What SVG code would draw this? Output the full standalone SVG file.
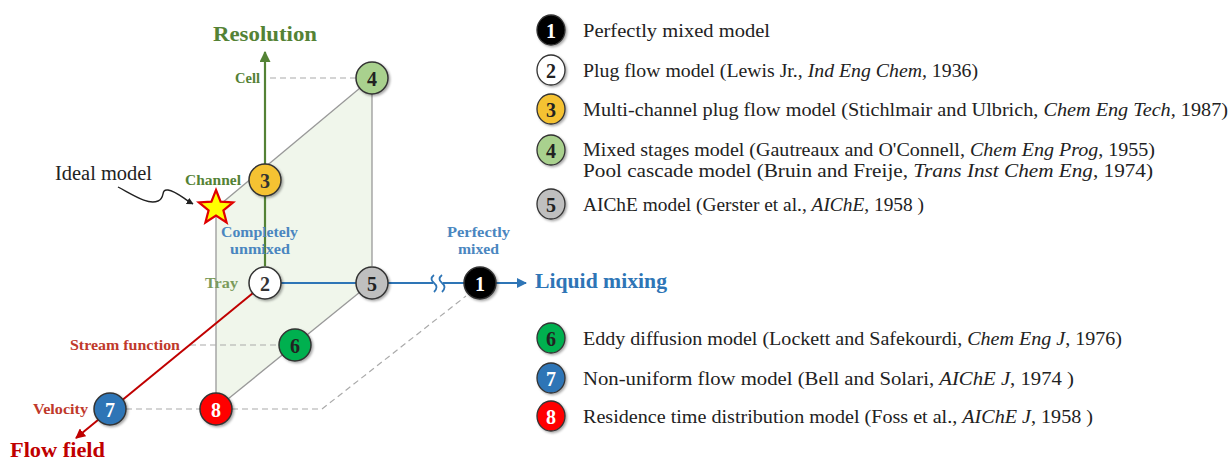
<svg xmlns="http://www.w3.org/2000/svg" width="1230" height="460" viewBox="0 0 1230 460">
<defs>
  <filter id="sh" x="-30%" y="-30%" width="170%" height="170%">
    <feDropShadow dx="1.5" dy="1.5" stdDeviation="1.2" flood-color="#000" flood-opacity="0.35"/>
  </filter>
  <marker id="ag" viewBox="0 0 10 10" refX="9" refY="5" markerWidth="5" markerHeight="5" orient="auto"><path d="M0,0 L10,5 L0,10 z" fill="#548235"/></marker>
  <marker id="ab" viewBox="0 0 10 10" refX="9" refY="5" markerWidth="5" markerHeight="5" orient="auto"><path d="M0,0 L10,5 L0,10 z" fill="#2e75b6"/></marker>
  <marker id="ar" viewBox="0 0 10 10" refX="9" refY="5" markerWidth="5" markerHeight="5" orient="auto"><path d="M0,0 L10,5 L0,10 z" fill="#c00000"/></marker>
  <marker id="ak" viewBox="0 0 10 10" refX="9" refY="5" markerWidth="5" markerHeight="5" orient="auto"><path d="M0,0 L10,5 L0,10 z" fill="#222"/></marker>
</defs>
<style>
  .num{font-family:"Liberation Serif",serif;font-weight:bold;font-size:20px;text-anchor:middle;dominant-baseline:central}
  .node{stroke:#333;stroke-width:1.5;filter:url(#sh)}
  .lnode{stroke:#333;stroke-width:1.3;filter:url(#sh)}
  .leg{font-family:"Liberation Serif",serif;font-size:19px;fill:#222;dominant-baseline:central}
  .ax{font-family:"Liberation Serif",serif;font-weight:bold;font-size:21px}
  .dash{stroke:#aaa;stroke-width:1.2;stroke-dasharray:6,4;fill:none}
  .edge{stroke:#999;stroke-width:1.3;fill:none}
  .lbl{font-family:"Liberation Serif",serif;font-weight:bold;font-size:14.5px}
</style>
<rect width="1230" height="460" fill="#fff"/>

<g id="face">
  <polygon points="216,208 372,78 372,282 216,409" fill="#e9f2e3" opacity="0.7"/>
</g>

<g id="connectors">
  <line class="edge" x1="216" y1="208" x2="360" y2="88"/>
  <line class="edge" x1="372" y1="94" x2="372" y2="266"/>
  <line class="edge" x1="360" y1="292" x2="228" y2="399"/>
  <line class="edge" x1="216" y1="208" x2="216" y2="393"/>
  <line class="dash" x1="270" y1="78" x2="356" y2="78"/>
  <line class="dash" x1="190" y1="345" x2="279" y2="345"/>
  <line class="dash" x1="126" y1="409" x2="200" y2="409"/>
  <polyline class="dash" points="232,409 322,409 466,296"/>
  <!-- Resolution axis -->
  <line x1="265" y1="266" x2="265" y2="52" stroke="#548235" stroke-width="2.2" marker-end="url(#ag)"/>
  <!-- Liquid mixing axis -->
  <line x1="281" y1="283" x2="356" y2="283" stroke="#2e75b6" stroke-width="2"/>
  <line x1="388" y1="283" x2="433" y2="283" stroke="#2e75b6" stroke-width="2"/>
  <path d="M434,275 q-5,4 0,8 q5,4 0,9 M442,275 q-5,4 0,8 q5,4 0,9" stroke="#2e75b6" stroke-width="1.8" fill="none"/>
  <line x1="443" y1="283" x2="464" y2="283" stroke="#2e75b6" stroke-width="2"/>
  <line x1="496" y1="283" x2="526" y2="283" stroke="#2e75b6" stroke-width="2" marker-end="url(#ab)"/>
  <!-- Flow field axis -->
  <line x1="253" y1="293" x2="76" y2="438" stroke="#c00000" stroke-width="2" marker-end="url(#ar)"/>
  <!-- Ideal model pointer -->
  <path d="M118,187 C135,196 148,205 158,201 C166,198 160,189 168,190 C176,191 184,199 193,204" stroke="#222" stroke-width="1.4" fill="none" marker-end="url(#ak)"/>
</g>

<g id="axis-labels">
  <text class="ax" x="213" y="41" fill="#548235" textLength="104" lengthAdjust="spacingAndGlyphs">Resolution</text>
  <text class="ax" x="535" y="288" fill="#2e75b6" textLength="132" lengthAdjust="spacingAndGlyphs">Liquid mixing</text>
  <text class="ax" x="10" y="457" fill="#c00000" textLength="95" lengthAdjust="spacingAndGlyphs">Flow field</text>
  <text class="lbl" x="235" y="83" fill="#548235" textLength="25" lengthAdjust="spacingAndGlyphs">Cell</text>
  <text class="lbl" x="185" y="185" fill="#548235" textLength="56" lengthAdjust="spacingAndGlyphs">Channel</text>
  <text class="lbl" x="205" y="288" fill="#7a9a5a" textLength="33" lengthAdjust="spacingAndGlyphs">Tray</text>
  <text class="lbl" x="70" y="350" fill="#c0392b" textLength="110" lengthAdjust="spacingAndGlyphs">Stream function</text>
  <text class="lbl" x="33" y="414" fill="#c0392b" textLength="55" lengthAdjust="spacingAndGlyphs">Velocity</text>
  <text class="lbl" x="221" y="237" fill="#4a86c0" textLength="77" lengthAdjust="spacingAndGlyphs">Completely</text>
  <text class="lbl" x="230" y="254" fill="#4a86c0" textLength="60" lengthAdjust="spacingAndGlyphs">unmixed</text>
  <text class="lbl" x="447" y="237" fill="#4a86c0" textLength="63" lengthAdjust="spacingAndGlyphs">Perfectly</text>
  <text class="lbl" x="458" y="254" fill="#4a86c0" textLength="41" lengthAdjust="spacingAndGlyphs">mixed</text>
  <text x="55" y="180" font-family="Liberation Serif, serif" font-size="20" fill="#222" textLength="97" lengthAdjust="spacingAndGlyphs">Ideal model</text>
</g>

<g id="star">
  <polygon points="216,190 220.6,201.7 233.1,202.4 223.4,210.3 226.6,222.5 216,215.6 205.4,222.5 208.6,210.3 198.9,202.4 211.4,201.7" fill="#ffff00" stroke="#e00000" stroke-width="2.2" stroke-linejoin="miter"/>
</g>

<g id="n4"><circle class="node" cx="372" cy="78" r="16" fill="#a9d18e"/><text class="num" x="372" y="79" fill="#222">4</text></g>
<g id="n3"><circle class="node" cx="265" cy="180" r="16" fill="#f5c231"/><text class="num" x="265" y="181" fill="#333">3</text></g>
<g id="n2"><circle class="node" cx="265" cy="283" r="16" fill="#fff"/><text class="num" x="265" y="284" fill="#333">2</text></g>
<g id="n5"><circle class="node" cx="372" cy="283" r="16" fill="#bfbfbf"/><text class="num" x="372" y="284" fill="#222">5</text></g>
<g id="n1"><circle class="node" cx="480" cy="283" r="16" fill="#000"/><text class="num" x="480" y="284" fill="#fff">1</text></g>
<g id="n6"><circle class="node" cx="295" cy="345" r="16" fill="#00b050"/><text class="num" x="295" y="346" fill="#222">6</text></g>
<g id="n7"><circle class="node" cx="110" cy="409" r="16" fill="#2e75b6"/><text class="num" x="110" y="410" fill="#fff">7</text></g>
<g id="n8"><circle class="node" cx="216" cy="409" r="16" fill="#ff0000"/><text class="num" x="216" y="410" fill="#fff">8</text></g>

<g id="legend">
  <g id="l1"><ellipse class="lnode" cx="551" cy="30" rx="14" ry="15" fill="#000"/><text class="num" x="551" y="31" fill="#fff">1</text>
    <text class="leg" x="583" y="30" textLength="187" lengthAdjust="spacingAndGlyphs">Perfectly mixed model</text></g>
  <g id="l2"><ellipse class="lnode" cx="551" cy="70" rx="14" ry="15" fill="#fff"/><text class="num" x="551" y="71" fill="#222">2</text>
    <text class="leg" x="583" y="70" textLength="395" lengthAdjust="spacingAndGlyphs">Plug flow model (Lewis Jr., <tspan font-style="italic">Ind Eng Chem,</tspan> 1936)</text></g>
  <g id="l3"><ellipse class="lnode" cx="551" cy="109" rx="14" ry="15" fill="#f5c231"/><text class="num" x="551" y="110" fill="#222">3</text>
    <text class="leg" x="583" y="109" textLength="645" lengthAdjust="spacingAndGlyphs">Multi-channel plug flow model (Stichlmair and Ulbrich, <tspan font-style="italic">Chem Eng Tech,</tspan> 1987)</text></g>
  <g id="l4"><ellipse class="lnode" cx="551" cy="150" rx="14" ry="15" fill="#a9d18e"/><text class="num" x="551" y="151" fill="#222">4</text>
    <text class="leg" x="583" y="149" textLength="572" lengthAdjust="spacingAndGlyphs">Mixed stages model (Gautreaux and O'Connell, <tspan font-style="italic">Chem Eng Prog</tspan>, 1955)</text>
    <text class="leg" x="583" y="170" textLength="570" lengthAdjust="spacingAndGlyphs">Pool cascade model (Bruin and Freije, <tspan font-style="italic">Trans Inst Chem Eng</tspan>, 1974)</text></g>
  <g id="l5"><ellipse class="lnode" cx="551" cy="204" rx="14" ry="15" fill="#bfbfbf"/><text class="num" x="551" y="205" fill="#222">5</text>
    <text class="leg" x="583" y="204" textLength="341" lengthAdjust="spacingAndGlyphs">AIChE model (Gerster et al., <tspan font-style="italic">AIChE</tspan>, 1958 )</text></g>
  <g id="l6"><ellipse class="lnode" cx="551" cy="338" rx="14" ry="15" fill="#00b050"/><text class="num" x="551" y="339" fill="#222">6</text>
    <text class="leg" x="583" y="338" textLength="539" lengthAdjust="spacingAndGlyphs">Eddy diffusion model (Lockett and Safekourdi, <tspan font-style="italic">Chem Eng J</tspan>, 1976)</text></g>
  <g id="l7"><ellipse class="lnode" cx="551" cy="378" rx="14" ry="15" fill="#2e75b6"/><text class="num" x="551" y="379" fill="#fff">7</text>
    <text class="leg" x="583" y="378" textLength="491" lengthAdjust="spacingAndGlyphs">Non-uniform flow model (Bell and Solari, <tspan font-style="italic">AIChE J</tspan>, 1974 )</text></g>
  <g id="l8"><ellipse class="lnode" cx="551" cy="416" rx="14" ry="15" fill="#ff0000"/><text class="num" x="551" y="417" fill="#fff">8</text>
    <text class="leg" x="583" y="416" textLength="510" lengthAdjust="spacingAndGlyphs">Residence time distribution model (Foss et al., <tspan font-style="italic">AIChE J</tspan>, 1958 )</text></g>
</g>
</svg>
